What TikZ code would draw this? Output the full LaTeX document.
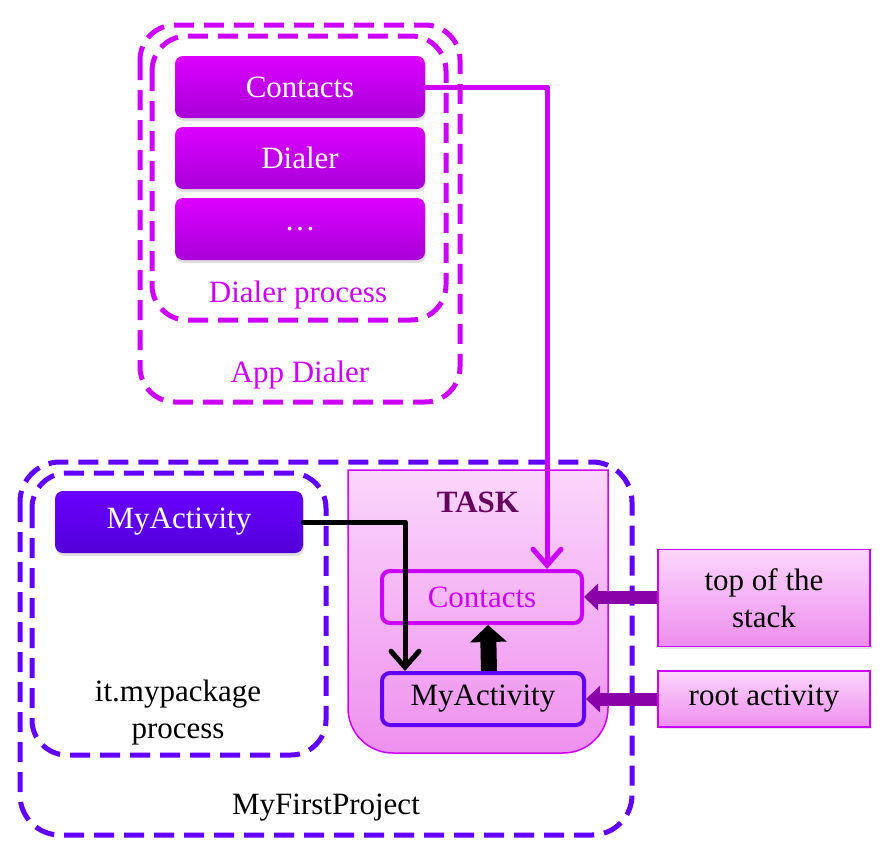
\documentclass[tikz,border=0pt]{standalone}
\usepackage{fontspec}
\setmainfont{Liberation Serif}
\usetikzlibrary{arrows.meta,shadows,calc}
\definecolor{mag}{HTML}{CC00FF}
\definecolor{magtop}{HTML}{DC00FF}
\definecolor{magbot}{HTML}{A800D8}
\definecolor{vio}{HTML}{6200FF}
\definecolor{viotop}{HTML}{6A00FF}
\definecolor{viobot}{HTML}{5200D8}
\definecolor{pinktop}{HTML}{FBD6FB}
\definecolor{pinkbot}{HTML}{EE8EEE}
\definecolor{taskbot}{HTML}{EE90EE}
\definecolor{darkpur}{HTML}{66005F}
\definecolor{arrpur}{HTML}{8A00A8}
\tikzset{
  txt/.style={font=\fontsize{31}{37}\selectfont},
  dashbox/.style={line width=5pt, dash pattern=on 20pt off 10pt, rounded corners=#1},
  magbox/.style={txt, text=white, rounded corners=8pt, top color=magtop, bottom color=magbot,
     minimum width=250pt, minimum height=62pt, inner sep=0pt,
     drop shadow={opacity=0.25, shadow xshift=1pt, shadow yshift=-3pt}},
  viobox/.style={txt, text=white, rounded corners=8pt, top color=viotop, bottom color=viobot,
     minimum width=248pt, minimum height=62pt, inner sep=0pt,
     drop shadow={opacity=0.25, shadow xshift=1pt, shadow yshift=-3pt}},
  stackbox/.style={txt, rounded corners=8pt, line width=4pt, fill=none,
     minimum width=200pt, minimum height=52pt, inner sep=0pt},
  notebox/.style={txt, draw=mag, line width=1.5pt, top color=pinktop, bottom color=pinkbot,
     minimum width=212pt, inner sep=0pt, align=center,
     drop shadow={opacity=0.2, shadow xshift=1pt, shadow yshift=-2pt}},
  thinarrow/.style={line width=5pt, line cap=round, line join=round,
     -{Straight Barb[length=16pt, width=28pt, line cap=round]}},
}
\begin{document}
\begin{tikzpicture}[x=1pt, y=-1pt]
\useasboundingbox (0,0) rectangle (886,862);
% TASK container
\path[top color=pinktop, bottom color=taskbot]
  (348,470) -- (608,470) -- (608,708) .. controls (608,732.9) and (588.1,753) .. (563,753)
  -- (393,753) .. controls (368.1,753) and (348,732.9) .. (348,708) -- cycle;
\draw[draw=mag, line width=1.5pt]
  (348,470) -- (608,470) -- (608,708) .. controls (608,732.9) and (588.1,753) .. (563,753)
  -- (393,753) .. controls (368.1,753) and (348,732.9) .. (348,708) -- cycle;
\node[txt, font=\fontsize{31}{37}\selectfont\bfseries, text=darkpur] (task) at (478,502) {TASK};

% dashed containers
\draw[mag, dashbox=35pt] (140,25) rectangle (460,402);
\draw[mag, dashbox=35pt] (152,36) rectangle (446,320);
\draw[vio, dashbox=40pt] (20,462) rectangle (632,835);
\draw[vio, dashbox=35pt] (32,473) rectangle (326,755);

% Dialer process activities
\node[magbox] (contacts) at (300,87) {Contacts};
\node[magbox] (dialer) at (300,158) {Dialer};
\node[magbox] (dots) at (300,229) {\dots};
\node[txt, text=mag] (dproc) at (298,295) {Dialer process};
\node[txt, text=mag] (appd) at (300,375) {App Dialer};

% it.mypackage
\node[viobox] (myact) at (179,522) {MyActivity};
\node[txt, align=center] (itproc) at (178,713) {it.mypackage\\process};
\node[txt] (mfp) at (326,808) {MyFirstProject};

% stack
\node[stackbox, draw=mag, text=mag] (tcont) at (482,597) {Contacts};
\node[stackbox, draw=vio, minimum width=202pt] (tmy) at (483,699) {MyActivity};

% notes
\node[notebox, minimum height=97pt] (top) at (764,598) {top of the\\stack};
\node[notebox, minimum height=56pt] (root) at (764,699) {root activity};

% connectors
\draw[mag, thinarrow] (contacts.east) -| ([xshift=65]tcont.north);
\draw[black, thinarrow] (myact.east) -| ([xshift=-78]tmy.north);
\draw[black, line width=16pt, -{Triangle[length=17pt, width=36pt]}]
  ([xshift=6]tmy.north) -- ([xshift=6]tcont.south);
\draw[arrpur, line width=13pt, -{Triangle[length=14pt, width=26pt]}]
  (top.west |- tcont.east) -- (tcont.east);
\draw[arrpur, line width=13pt, -{Triangle[length=14pt, width=26pt]}]
  (root.west) -- (tmy.east);
\end{tikzpicture}
\end{document}
